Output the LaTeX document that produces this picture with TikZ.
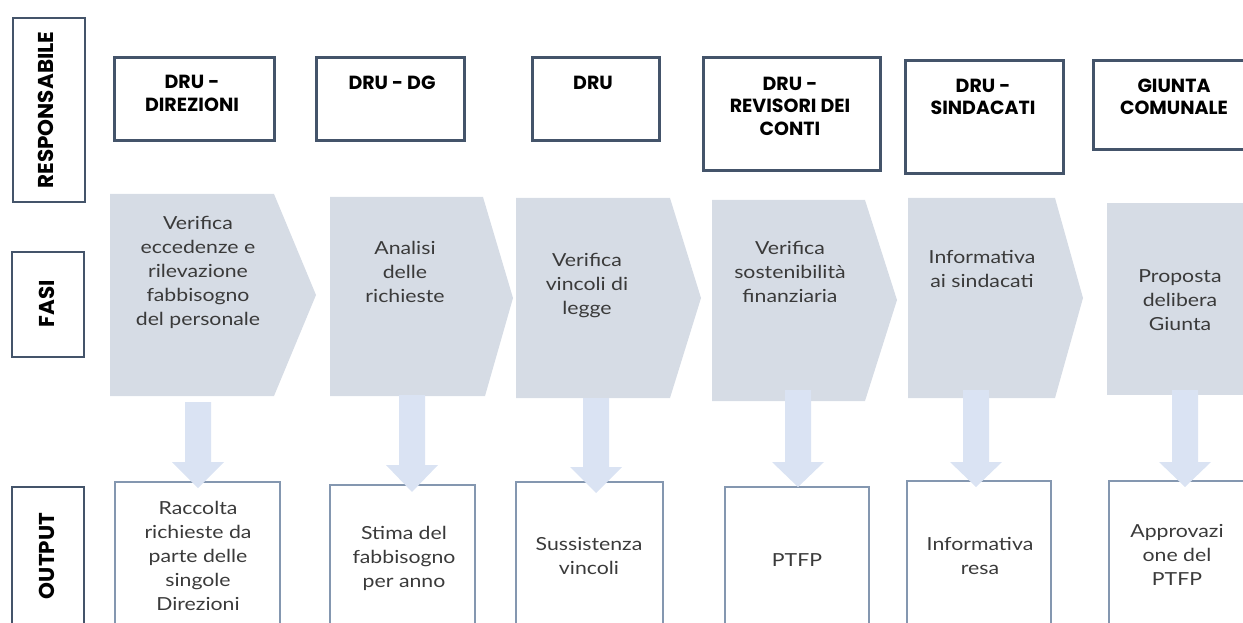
\documentclass[tikz,border=0pt]{standalone}
\usepackage{fontspec}
\newfontfamily\bodyfont{Lato}[FakeStretch=1.18]
\newfontfamily\headfont{Poppins}
\newfontfamily\sidefont{Poppins}
\definecolor{darkslate}{HTML}{44546A}
\definecolor{outline}{HTML}{8497B0}
\definecolor{phasefill}{HTML}{D6DCE5}
\definecolor{arrowfill}{HTML}{DAE3F3}
\definecolor{bodytext}{HTML}{3A3A3A}
\tikzset{
  sidebox/.style={draw=darkslate, line width=2.5pt},
  headbox/.style={draw=darkslate, line width=3pt},
  outbox/.style={draw=outline, line width=2pt},
  phase/.style={fill=phasefill},
  blockarrow/.style={fill=arrowfill},
  sidelabel/.style={rotate=90, font=\sidefont\bfseries\fontsize{21.5}{24}\selectfont},
  headlabel/.style={align=center, inner sep=0pt, font=\headfont\bfseries\fontsize{19}{22.5}\selectfont},
  bodylabel/.style={align=center, inner sep=0pt, text=bodytext, font=\bodyfont\fontsize{18}{24}\selectfont},
}
\newcommand{\drawdownarrow}[5]{% name, x, ytop, yhead, ytip
  \coordinate (#1) at (#2,#5);
  \fill[blockarrow] (#2-13,#3) -- (#2+13,#3) -- (#2+13,#4) -- (#2+26,#4) -- (#1) -- (#2-26,#4) -- (#2-13,#4) -- cycle;
}
\begin{document}
\begin{tikzpicture}[x=1pt,y=-1pt]
\useasboundingbox (0,0) rectangle (1243,623);
\clip (0,0) rectangle (1243,623);

% side labels
\draw[sidebox] (13,18) rectangle (85,202);
\node[sidelabel] (resp) at (46,110) {RESPONSABILE};
\draw[sidebox] (12,252) rectangle (84,357);
\node[sidelabel] (fasi) at (47,304) {FASI};
\draw[sidebox] (12,487) rectangle (84,650);
\node[sidelabel] (outp) at (47,556) {OUTPUT};

% responsible boxes
\draw[headbox] (114,58) rectangle (274,141);
\node[headlabel] (h1) at (192,93.5) {DRU -\\DIREZIONI};
\draw[headbox] (316,58) rectangle (464,141);
\node[headlabel] (h2) at (392,83) {DRU - DG};
\draw[headbox] (532,58) rectangle (659,141);
\node[headlabel] (h3) at (593,83) {DRU};
\draw[headbox] (703,58) rectangle (880,171);
\node[headlabel] (h4) at (790,106) {DRU -\\REVISORI DEI\\CONTI};
\draw[headbox] (905,61) rectangle (1063,174);
\node[headlabel] (h5) at (983,97) {DRU -\\SINDACATI};
\draw[headbox] (1093,61) rectangle (1270,150);
\node[headlabel] (h6) at (1174,97) {GIUNTA\\COMUNALE};

% phases
\fill[phase] (110,194) -- (274,194) -- (316,295) -- (274,396) -- (110,396) -- cycle;
\fill[phase] (330,197) -- (483,197) -- (513,298) -- (485,396) -- (330,396) -- cycle;
\fill[phase] (516,198) -- (670,198) -- (701,298) -- (670,398) -- (516,398) -- cycle;
\fill[phase] (712,200) -- (865,200) -- (897,300) -- (865,401) -- (712,401) -- cycle;
\fill[phase] (908,198) -- (1055,198) -- (1083,298) -- (1055,398) -- (908,398) -- cycle;
\fill[phase] (1107,203) rectangle (1270,395);

\node[bodylabel] (p1) at (198,272.5) {Verifica\\eccedenze e\\rilevazione\\fabbisogno\\del personale};
\node[bodylabel] (p2) at (405,272) {Analisi\\delle\\richieste};
\node[bodylabel] (p3) at (587,286) {Verifica\\vincoli di\\legge};
\node[bodylabel] (p4) at (790,272) {Verifica\\sostenibilità\\finanziaria};
\node[bodylabel] (p5) at (982,268.5) {Informativa\\ai sindacati};
\node[bodylabel] (p6) at (1180,300) {Proposta\\delibera\\Giunta};

% output boxes
\draw[outbox] (115,482) rectangle (280,650);
\draw[outbox] (330,485) rectangle (475,650);
\draw[outbox] (516,482) rectangle (663,650);
\draw[outbox] (725,487) rectangle (869,650);
\draw[outbox] (907,481) rectangle (1051,650);
\draw[outbox] (1109,481) rectangle (1270,650);

\node[bodylabel] (o1) at (198,556) {Raccolta\\richieste da\\parte delle\\singole\\Direzioni};
\node[bodylabel] (o2) at (404,558) {Stima del\\fabbisogno\\per anno};
\node[bodylabel] (o3) at (589,556) {Sussistenza\\vincoli};
\node[bodylabel] (o4) at (797,560) {PTFP};
\node[bodylabel] (o5) at (980,556) {Informativa\\resa};
\node[bodylabel] (o6) at (1177,555) {Approvazi\\one del\\PTFP};

% arrows
\drawdownarrow{a1}{198}{402}{462}{488}
\drawdownarrow{a2}{412}{395}{465}{492}
\drawdownarrow{a3}{596}{398}{467}{493}
\drawdownarrow{a4}{798}{390}{462}{487}
\drawdownarrow{a5}{976}{390}{462}{487}
\drawdownarrow{a6}{1185}{390}{462}{487}
\end{tikzpicture}
\end{document}
